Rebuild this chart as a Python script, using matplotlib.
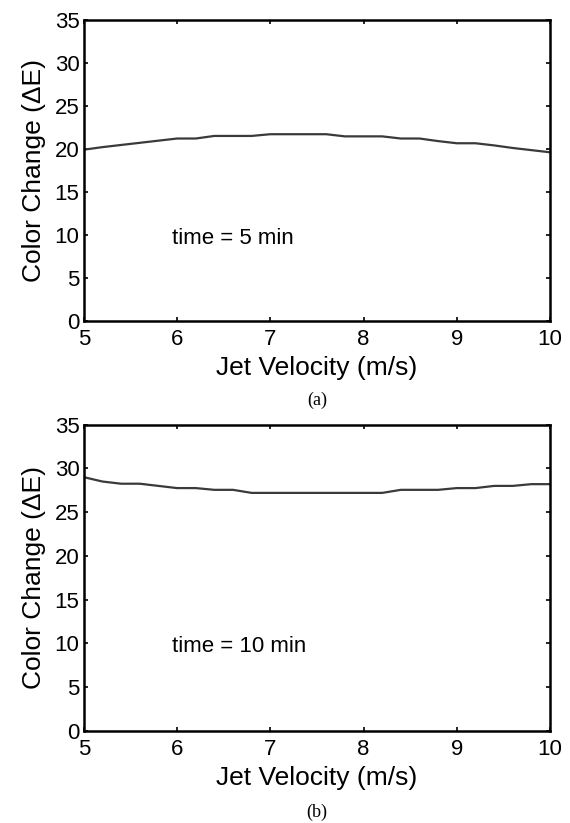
import numpy as np
import matplotlib
matplotlib.use("Agg")
import matplotlib.pyplot as plt

plt.rcParams['font.family'] = ['Liberation Sans', 'DejaVu Sans']

# Jet velocity samples (m/s)
velocity = [5.0, 5.2, 5.4, 5.6, 5.8, 6.0, 6.2, 6.4, 6.6, 6.8, 7.0, 7.2, 7.4,
            7.6, 7.8, 8.0, 8.2, 8.4, 8.6, 8.8, 9.0, 9.2, 9.4, 9.6, 9.8, 10.0]

# Color change after 5 minutes
delta_e_5min = [19.9, 20.2, 20.45, 20.7, 20.95, 21.2, 21.2, 21.5, 21.5, 21.5,
                21.7, 21.7, 21.7, 21.7, 21.45, 21.45, 21.45, 21.2, 21.2, 20.9,
                20.65, 20.65, 20.4, 20.1, 19.85, 19.6]

# Color change after 10 minutes
delta_e_10min = [29.0, 28.5, 28.25, 28.25, 28.0, 27.75, 27.75, 27.55, 27.55, 27.2,
                 27.2, 27.2, 27.2, 27.2, 27.2, 27.2, 27.2, 27.55, 27.55, 27.55,
                 27.75, 27.75, 28.0, 28.0, 28.2, 28.2]

x_ticks = [5, 6, 7, 8, 9, 10]
y_ticks = [0, 5, 10, 15, 20, 25, 30, 35]

panels = [
    (delta_e_5min, "time = 5 min", "(a)", [0.147, 0.610, 0.818, 0.366]),
    (delta_e_10min, "time = 10 min", "(b)", [0.147, 0.112, 0.818, 0.372]),
]

fig = plt.figure(figsize=(5.7, 8.23), dpi=100)

for values, note, tag, rect in panels:
    ax = fig.add_axes(rect)
    ax.plot(velocity, values, color='#3a3a3a', lw=1.6)
    ax.set_xlim(5, 10)
    ax.set_ylim(0, 35)
    ax.set_xticks(x_ticks)
    ax.set_yticks(y_ticks)
    ax.tick_params(direction='in', length=3, width=1.2, top=True, right=True,
                   labelsize=16, colors='black')
    ax.tick_params(axis='x', pad=6)
    ax.tick_params(axis='y', pad=3)
    for sp in ax.spines.values():
        sp.set_linewidth(1.8)
    ax.set_xlabel("Jet Velocity (m/s)", fontsize=19, labelpad=4)
    ax.set_ylabel("Color Change (\u0394E)", fontsize=19, labelpad=6)
    ax.text(5.95, 9.6, note, fontsize=16, va='center', ha='left')
    ax.text(0.5, -0.265, tag, transform=ax.transAxes, ha='center', va='center',
            fontsize=13, family='Liberation Serif')

fig.savefig("out.png", dpi=100)
